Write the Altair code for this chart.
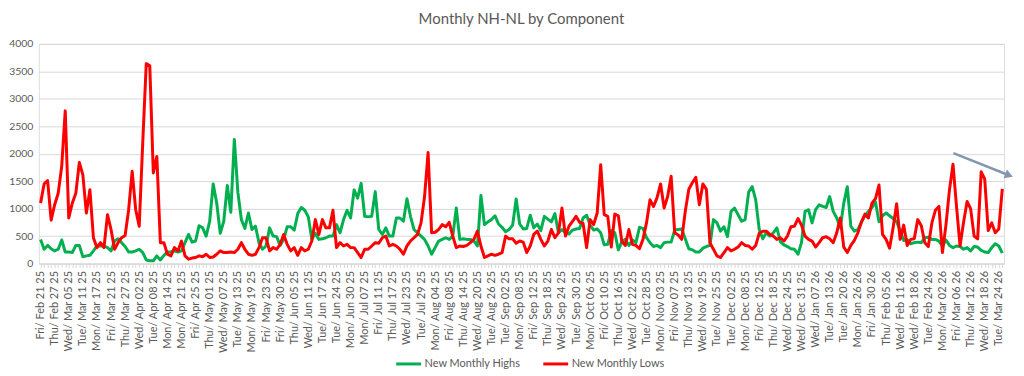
import altair as alt
import pandas as pd

# ---------------- data ----------------
start_date = "2025-02-21"
end_date = "2026-03-25"
market_holidays = ["2025-04-18", "2025-05-26", "2025-06-19", "2025-07-04", "2025-09-01",
                   "2025-11-27", "2025-12-25", "2026-01-01", "2026-01-19", "2026-02-16"]

new_monthly_highs = [
    440, 260, 330, 270, 230, 260, 430, 210, 210, 200,
    330, 330, 125, 140, 150, 230, 320, 320, 320, 290,
    230, 410, 450, 380, 310, 210, 210, 230, 260, 200,
    65, 50, 50, 140, 65, 150, 210, 210, 230, 210,
    230, 380, 530, 390, 410, 690, 650, 500, 770, 1450,
    1100, 550, 770, 1420, 935, 2260, 1300, 800, 640, 920,
    620, 680, 380, 260, 320, 650, 500, 490, 330, 440,
    670, 670, 610, 910, 1020, 970, 850, 440, 550, 440,
    450, 470, 500, 500, 710, 560, 800, 970, 830, 1340,
    1190, 1460, 860, 850, 860, 1310, 620, 530, 650, 500,
    500, 830, 830, 770, 1180, 860, 620, 560, 500, 440,
    320, 170, 290, 410, 440, 470, 440, 500, 1010, 440,
    450, 440, 440, 410, 320, 1240, 710, 760, 800, 870,
    720, 660, 580, 620, 700, 1175, 720, 630, 640, 880,
    650, 720, 600, 860, 810, 760, 910, 560, 620, 560,
    540, 610, 630, 640, 830, 880, 700, 610, 630, 560,
    340, 350, 600, 560, 250, 400, 440, 330, 430, 380,
    660, 640, 470, 380, 310, 330, 290, 380, 390, 390,
    610, 620, 630, 450, 270, 250, 210, 210, 280, 310,
    330, 800, 740, 590, 670, 490, 950, 1010, 890, 770,
    800, 1300, 1400, 1160, 620, 450, 560, 500, 560, 650,
    400, 340, 310, 270, 260, 170, 380, 950, 980, 740,
    980, 1070, 1040, 1020, 1220, 950, 830, 650, 1100, 1400,
    680, 590, 620, 760, 870, 950, 1020, 1120, 760, 870,
    920, 870, 820, 760, 600, 420, 440, 360, 380, 390,
    380, 470, 480, 440, 440, 410, 320, 430, 330, 290,
    320, 310, 260, 290, 230, 310, 300, 240, 210, 200,
    290, 360, 320, 190,
]

new_monthly_lows = [
    1100, 1450, 1510, 790, 1070, 1280, 1770, 2780, 830, 1100,
    1280, 1840, 1615, 920, 1345, 470, 290, 380, 290, 890,
    620, 260, 380, 470, 510, 980, 1680, 980, 680, 2200,
    3640, 3600, 1650, 1950, 380, 380, 170, 140, 290, 230,
    410, 140, 80, 100, 110, 140, 125, 170, 110, 120,
    170, 230, 200, 200, 210, 200, 260, 380, 260, 170,
    150, 170, 290, 470, 470, 230, 290, 260, 350, 530,
    350, 230, 290, 150, 290, 230, 260, 410, 800, 530,
    800, 650, 650, 970, 290, 380, 320, 350, 290, 290,
    200, 110, 260, 260, 320, 380, 370, 470, 500, 320,
    350, 320, 260, 170, 320, 410, 470, 530, 740, 1220,
    2020, 560, 570, 620, 710, 670, 750, 500, 290, 320,
    310, 330, 380, 440, 590, 320, 110, 140, 170, 150,
    170, 200, 500, 450, 450, 370, 410, 390, 200, 320,
    530, 590, 440, 320, 410, 620, 470, 560, 1010, 500,
    680, 770, 860, 750, 730, 290, 800, 710, 920, 1800,
    890, 860, 300, 900, 870, 400, 330, 620, 350, 330,
    270, 440, 740, 1160, 1040, 1200, 1450, 1010, 1220, 1590,
    560, 520, 440, 950, 1350, 1470, 1570, 1070, 1450, 1350,
    380, 260, 140, 110, 200, 290, 230, 260, 300, 380,
    330, 320, 260, 330, 550, 590, 590, 530, 500, 440,
    470, 410, 500, 670, 680, 820, 700, 500, 440, 410,
    300, 380, 470, 490, 450, 380, 560, 830, 300, 200,
    330, 420, 560, 750, 900, 830, 1100, 1180, 1430, 530,
    440, 280, 650, 1090, 440, 700, 330, 440, 450, 800,
    690, 380, 310, 740, 970, 1040, 200, 700, 1340, 1810,
    1040, 320, 750, 1130, 1000, 500, 450, 1670, 1540, 600,
    740, 560, 630, 1360,
]

series_names = ["New Monthly Highs", "New Monthly Lows"]
series_colors = ["#00b050", "#ff0000"]
y_ticks = list(range(0, 4001, 500))

# ---------------- categories (trading days) ----------------
days = pd.bdate_range(start_date, end_date)
days = days[~days.isin(pd.to_datetime(market_holidays))]
n = min(len(days), len(new_monthly_highs), len(new_monthly_lows))
date_labels = [d.strftime("%a/ %b %d %y") for d in days[:n]]

df = pd.concat([
    pd.DataFrame({"day": date_labels, "series": series_names[0], "value": new_monthly_highs[:n]}),
    pd.DataFrame({"day": date_labels, "series": series_names[1], "value": new_monthly_lows[:n]}),
], ignore_index=True)

FONT = "Lato"
GREY = "#595959"

lines = alt.Chart(df).mark_line(strokeWidth=3, strokeJoin="round").encode(
    x=alt.X("day:N", sort=date_labels,
            scale=alt.Scale(type="point", padding=0.5),
            axis=alt.Axis(title=None, labelAngle=-90, labelFontSize=11, labelColor=GREY,
                          labelFont=FONT, labelOverlap=False, labelPadding=3,
                          labelExpr=f"round(datum.index*{n-1}) % 4 == 0 ? datum.label : ''",
                          tickSize=4, tickColor="#d9d9d9", domainColor="#d9d9d9", grid=False)),
    y=alt.Y("value:Q", scale=alt.Scale(domain=[0, 4000], nice=False),
            axis=alt.Axis(title=None, values=y_ticks, format="d", domain=False, ticks=False,
                          gridColor="#d9d9d9", labelColor=GREY, labelFontSize=10.5,
                          labelFont=FONT, labelPadding=6)),
    color=alt.Color("series:N", scale=alt.Scale(domain=series_names, range=series_colors),
                    legend=alt.Legend(title=None, orient="none", direction="horizontal",
                                      legendX=358, legendY=308, symbolType="stroke",
                                      symbolSize=625, symbolStrokeWidth=3,
                                      labelFontSize=11, labelColor=GREY, labelFont=FONT,
                                      columnPadding=16, labelOffset=2)),
)

anno = pd.DataFrame({"k": [0]})
arrow_line = alt.Chart(anno).mark_rule(color="#8497b0", strokeWidth=2.5).encode(
    x=alt.value(920), y=alt.value(110), x2=alt.value(974), y2=alt.value(131.4))
arrow_head = alt.Chart(anno).mark_point(shape="triangle-right", filled=True, color="#8497b0",
                                        opacity=1, size=90, angle=21.6).encode(
    x=alt.value(976), y=alt.value(132.2))

chart = alt.layer(lines, arrow_line, arrow_head).properties(
    width=971, height=221,
    title=alt.TitleParams("Monthly NH-NL by Component", fontSize=15, font=FONT,
                          fontWeight="normal", color=GREY, anchor="middle", offset=12),
    padding={"left": 31, "top": 35, "right": 12, "bottom": 105},
    autosize="none",
).configure_view(stroke="#a9b7cb", strokeWidth=1).configure(background="white")

chart.save("out.html", embed_options={"renderer": "svg", "actions": False})
